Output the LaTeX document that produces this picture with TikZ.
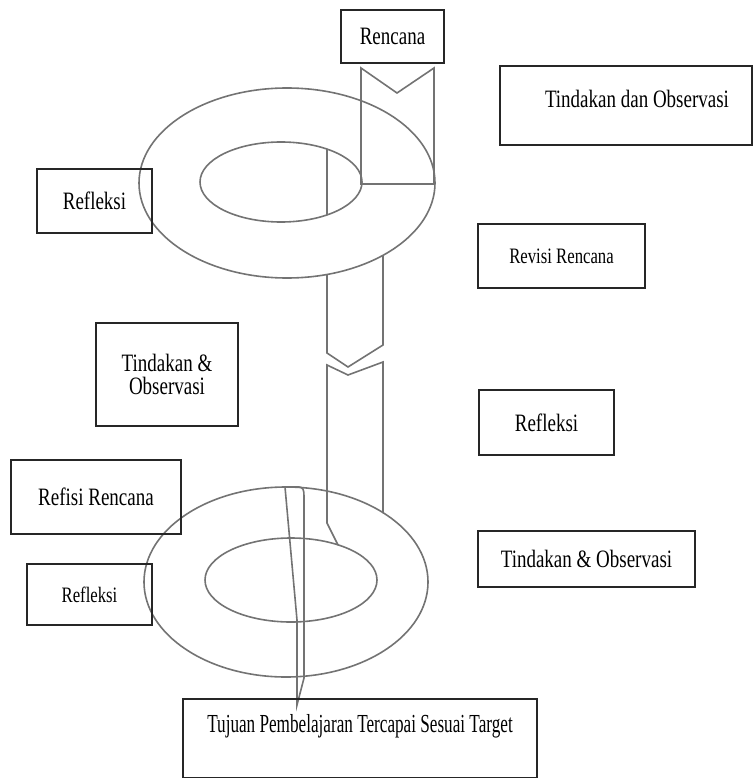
\documentclass[tikz,border=0pt]{standalone}
\usepackage{fontspec}
\setmainfont{Liberation Serif}[FakeStretch=0.76]
\newfontfamily\goalfont{Liberation Serif}[FakeStretch=0.66]
\usepackage{tikz}
\usetikzlibrary{positioning}

\tikzset{
  box/.style={draw=black!85,line width=1.6pt,inner sep=0pt,align=center,
    font=\fontsize{25}{23}\selectfont},
  smallbox/.style={box,font=\fontsize{22}{24}\selectfont},
  ring/.style={draw=black!55,line width=1.6pt},
}

\begin{document}
\begin{tikzpicture}[x=1pt,y=-1pt]
\useasboundingbox (0,0) rectangle (754,778);
% rings
\draw[ring] (287,183) ellipse [x radius=148pt,y radius=95pt];
\draw[ring] (281,182) ellipse [x radius=81pt,y radius=40pt];
\draw[ring] (286,582) ellipse [x radius=142pt,y radius=95pt];
\draw[ring] (291,580) ellipse [x radius=86pt,y radius=42pt];
% arrows
\draw[ring] (361,184) -- (361,68) -- (397,93) -- (434,68) -- (434,184) -- cycle;
\draw[ring] (327,149) -- (327,215);
\draw[ring] (327,274.5) -- (327,353) -- (348,367) -- (383,345) -- (383,255.3);
\draw[ring] (338,545) -- (327,523) -- (327,365) -- (348,375) -- (383,362) -- (383,513);
\draw[ring] (285,487) -- (299,487) .. controls (303,487) and (304,490) .. (304,496)
  -- (304,678) -- (297,705) -- (297,620) -- cycle;
% boxes
\node[box,minimum width=103pt,minimum height=53pt] (1) at (392.5,36.5)
{Rencana};
\node[box,minimum width=252pt,minimum height=79pt,text depth=14pt] (2) at (626,105.5)
{\hspace*{22pt}Tindakan dan Observasi};
\node[box,minimum width=115pt,minimum height=64pt] (3) at (94.5,201)
{Refleksi};
\node[smallbox,minimum width=167pt,minimum height=64pt] (4) at (561.5,256)
{Revisi Rencana};
\node[box,minimum width=142pt,minimum height=103pt] (5) at (167,374.5)
{Tindakan \&\\Observasi};
\node[box,minimum width=135pt,minimum height=65pt] (6) at (546.5,422.5)
{Refleksi};
\node[box,minimum width=170pt,minimum height=74pt] (7) at (96,497)
{Refisi Rencana};
\node[smallbox,minimum width=125pt,minimum height=61pt] (8) at (89.5,594.5)
{Refleksi};
\node[box,minimum width=217pt,minimum height=56pt] (9) at (586.5,559)
{Tindakan \& Observasi};
\node[box,font=\goalfont\fontsize{26}{28}\selectfont,minimum width=354pt,
  text height=34pt,text depth=45pt,anchor=north] (10) at (360,698)
{Tujuan Pembelajaran Tercapai Sesuai Target};
\end{tikzpicture}
\end{document}
